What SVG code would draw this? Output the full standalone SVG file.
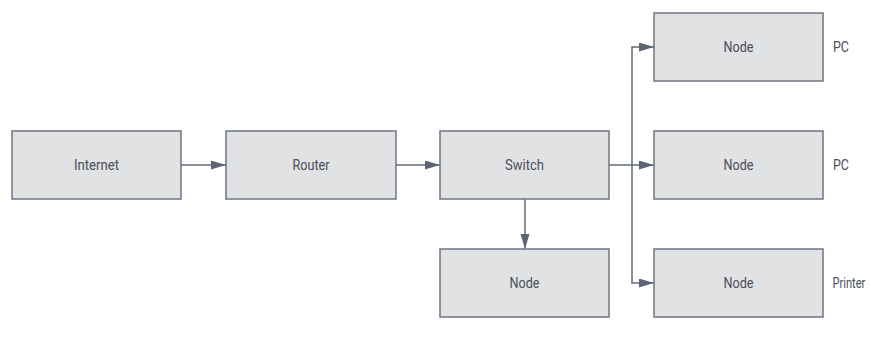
<svg xmlns="http://www.w3.org/2000/svg" width="871" height="342" viewBox="0 0 871 342">
<style>
.box{fill:#e1e2e4;stroke:#6e7482;stroke-width:1.5}
.lbl{font-family:Roboto,"Liberation Sans",sans-serif;font-size:15px;fill:#4a4f5b;text-anchor:middle}
.side{font-family:Roboto,"Liberation Sans",sans-serif;font-size:15px;fill:#4a4f5b}
.edge{fill:none;stroke:#626978;stroke-width:1.5}
</style>
<defs>
<marker id="ah" markerWidth="16" markerHeight="10" refX="15" refY="4.5" orient="auto" markerUnits="userSpaceOnUse">
<path d="M0,0 L15,4.5 L0,9 Z" fill="#5d6474"/>
</marker>
</defs>
<rect width="871" height="342" fill="#ffffff"/>
<g id="connectors">
<path class="edge" d="M181,165 H226" marker-end="url(#ah)"/>
<path class="edge" d="M396,165 H440" marker-end="url(#ah)"/>
<path class="edge" d="M609,165 H654" marker-end="url(#ah)"/>
<path class="edge" d="M632,165 V47 H654" marker-end="url(#ah)"/>
<path class="edge" d="M632,165 V283 H654" marker-end="url(#ah)"/>
<path class="edge" d="M525,199 V249" marker-end="url(#ah)"/>
</g>
<g id="internet">
<rect class="box" x="12" y="131" width="169" height="68"/>
<text class="lbl" x="96.5" y="170" textLength="45" lengthAdjust="spacingAndGlyphs">Internet</text>
</g>
<g id="router">
<rect class="box" x="226" y="131" width="170" height="68"/>
<text class="lbl" x="311" y="170" textLength="37" lengthAdjust="spacingAndGlyphs">Router</text>
</g>
<g id="switch">
<rect class="box" x="440" y="131" width="169" height="68"/>
<text class="lbl" x="524.5" y="170" textLength="39" lengthAdjust="spacingAndGlyphs">Switch</text>
</g>
<g id="node-bottom">
<rect class="box" x="440" y="249" width="169" height="68"/>
<text class="lbl" x="524.5" y="288" textLength="30" lengthAdjust="spacingAndGlyphs">Node</text>
</g>
<g id="node-pc1">
<rect class="box" x="654" y="13" width="169" height="68"/>
<text class="lbl" x="738.5" y="52" textLength="30" lengthAdjust="spacingAndGlyphs">Node</text>
<text class="side" x="833" y="52" textLength="16" lengthAdjust="spacingAndGlyphs">PC</text>
</g>
<g id="node-pc2">
<rect class="box" x="654" y="131" width="169" height="68"/>
<text class="lbl" x="738.5" y="170" textLength="30" lengthAdjust="spacingAndGlyphs">Node</text>
<text class="side" x="833" y="170" textLength="16" lengthAdjust="spacingAndGlyphs">PC</text>
</g>
<g id="node-printer">
<rect class="box" x="654" y="249" width="169" height="68"/>
<text class="lbl" x="738.5" y="288" textLength="30" lengthAdjust="spacingAndGlyphs">Node</text>
<text class="side" x="0" y="0" transform="translate(832.5,288) scale(0.74,1)">Printer</text>
</g>
</svg>
